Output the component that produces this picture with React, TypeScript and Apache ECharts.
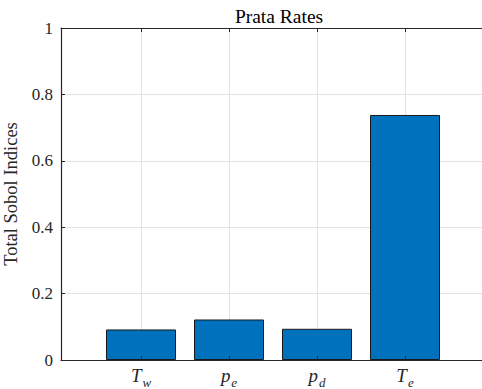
import React, { useEffect, useRef } from "react";
import * as echarts from "echarts";

// Sensitivity of each input parameter (total-order Sobol indices)
const labelMain = ["T", "p", "p", "T"];
const labelSub = ["w", "e", "d", "e"];
const sobolValues = [0.092, 0.122, 0.094, 0.738];
const yTicks = [0, 0.2, 0.4, 0.6, 0.8, 1];
const titleText = "Prata Rates";
const yName = "Total Sobol Indices";

const positions = sobolValues.map((_, i) => i + 1);
const yMax = yTicks[yTicks.length - 1];

const AXIS_COLOR = "#262626";
const GRID_COLOR = "#e3e3e3";
const SERIF = "Liberation Serif";

export default function App() {
  const ref = useRef<HTMLDivElement>(null);

  useEffect(() => {
    if (!ref.current) return;
    const chart = echarts.init(ref.current, undefined, { renderer: "svg" });

    const xRange = { min: 1 - 80 / 88, max: 4 + 80 / 88 };
    const makeTicks = () => ({
      show: true,
      inside: true,
      length: 4,
      customValues: positions.slice(),
      lineStyle: { color: AXIS_COLOR, width: 1 },
    });

    // horizontal grid lines are light, the one at the top doubles as the box edge
    const hGridColors = yTicks.map((t, i) => (i === yTicks.length - 1 ? AXIS_COLOR : GRID_COLOR));

    chart.setOption({
      animation: false,
      title: {
        text: titleText,
        left: 274,
        top: 1,
        textAlign: "center",
        textStyle: {
          fontFamily: SERIF,
          fontWeight: "normal",
          fontSize: 19.5,
          color: "#000",
        },
      },
      grid: {
        left: 61,
        top: 28,
        width: 424,
        height: 332,
        containLabel: false,
        outerBoundsMode: "none",
      },
      xAxis: [
        {
          // bottom frame: drawn above the bars so the ticks show through them
          type: "value",
          position: "bottom",
          ...xRange,
          z: 5,
          axisLine: { show: true, onZero: false, lineStyle: { color: AXIS_COLOR, width: 1.2 } },
          axisTick: makeTicks(),
          axisLabel: {
            show: true,
            customValues: positions.slice(),
            margin: 6,
            formatter: (v: number) => {
              const i = Math.round(v) - 1;
              return `{m|${labelMain[i]}}{s|${labelSub[i]}}`;
            },
            rich: {
              m: {
                fontFamily: SERIF,
                fontStyle: "italic",
                fontSize: 19,
                lineHeight: 20,
                color: "#262626",
                verticalAlign: "top",
              },
              s: {
                fontFamily: SERIF,
                fontStyle: "italic",
                fontSize: 13,
                lineHeight: 13,
                padding: [10, 0, 0, 1],
                color: "#262626",
                verticalAlign: "top",
              },
            },
          },
          splitLine: { show: false },
        },
        {
          // top frame with its inward ticks
          type: "value",
          position: "top",
          show: true,
          gridIndex: 0,
          ...xRange,
          z: 6,
          axisLine: { show: true, onZero: false, lineStyle: { color: AXIS_COLOR, width: 1.2 } },
          axisTick: makeTicks(),
          axisLabel: { show: false },
          splitLine: { show: false },
        },
        {
          // vertical grid lines behind the bars
          type: "value",
          position: "top",
          ...xRange,
          z: 0,
          axisLine: { show: false, onZero: false },
          axisTick: { show: false, customValues: positions.slice() },
          axisLabel: { show: false, customValues: positions.slice() },
          splitLine: { show: true, lineStyle: { color: GRID_COLOR, width: 1 } },
        },
      ],
      yAxis: [
        {
          type: "value",
          position: "left",
          min: 0,
          max: yMax,
          interval: 0.2,
          z: 0,
          name: yName,
          nameLocation: "middle",
          nameGap: 33,
          nameTextStyle: { fontFamily: SERIF, fontSize: 18.5, color: "#262626" },
          axisLine: { show: true, onZero: false, lineStyle: { color: AXIS_COLOR, width: 1.2 } },
          axisTick: { show: true, inside: true, length: 4, lineStyle: { color: AXIS_COLOR } },
          axisLabel: {
            margin: 8,
            fontFamily: SERIF,
            fontSize: 17,
            color: "#262626",
          },
          splitLine: { show: true, lineStyle: { color: hGridColors, width: 1 } },
        },
      ],
      series: [
        {
          type: "bar",
          xAxisIndex: 0,
          yAxisIndex: 0,
          barWidth: 70,
          z: 2,
          itemStyle: { color: "#0072BD", borderColor: "#1a1a1a", borderWidth: 1 },
          data: sobolValues.map((v, i) => [positions[i], v]),
          // upper edge of the axes box
          markLine: {
            silent: true,
            symbol: "none",
            label: { show: false },
            lineStyle: { color: AXIS_COLOR, width: 1.2, type: "solid" },
            data: [{ yAxis: yMax }],
          },
        },
      ],
    });

    return () => chart.dispose();
  }, []);

  return (
    <div
      ref={ref}
      style={{ position: "absolute", left: 0, top: 0, width: 482, height: 389, background: "#fff" }}
    />
  );
}
